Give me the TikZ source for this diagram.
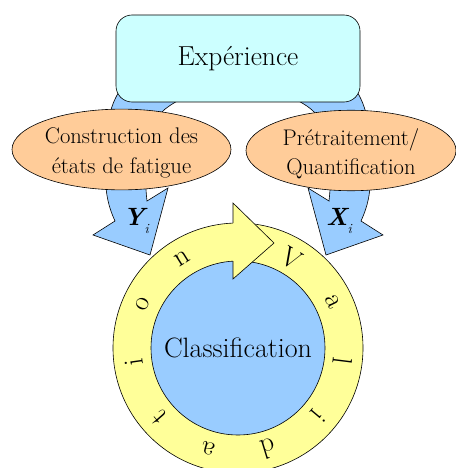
\documentclass[tikz,border=0pt]{standalone}
\usepackage{fontspec}
\newfontfamily\tnr{Latin Modern Roman}
\usetikzlibrary{shapes.geometric}
\definecolor{boxcyan}{HTML}{CCFFFF}
\definecolor{peach}{HTML}{FFCC99}
\definecolor{arrowblue}{HTML}{99CCFF}
\definecolor{ringyellow}{HTML}{FFFF99}
\tikzset{
  outl/.style={draw=black, line width=0.6pt},
  bluearrow/.style={fill=arrowblue, outl, line join=miter},
  topbox/.style={rectangle, rounded corners=16pt, fill=boxcyan, outl, minimum width=244pt, minimum height=87pt, inner sep=0pt, font=\tnr\fontsize{27.5}{30}\selectfont},
  stepell/.style={ellipse, fill=peach, outl, inner sep=0pt, align=center, font=\tnr\fontsize{22.6}{29.5}\selectfont},
  ringletter/.style={inner sep=0pt, font=\tnr\fontsize{28}{28}\selectfont},
  varlabel/.style={inner sep=0pt, font=\tnr\fontsize{25}{25}\selectfont\bfseries\itshape},
}
\begin{document}
\begin{tikzpicture}[x=1pt, y=-1pt]
\useasboundingbox (0,0) rectangle (455,468);
% blue curved arrows
\draw[bluearrow] (124,85) .. controls (106,105) and (101,150) .. (106,187)
  .. controls (107,200) and (110,210) .. (115,221) -- (93,235) -- (150,255) -- (168,188) -- (147,201)
  .. controls (144,175) and (145,140) .. (157,118)
  .. controls (163,109) and (172,103) .. (190,95) -- cycle;
\draw[bluearrow] (352,85) .. controls (370,105) and (375,150) .. (370,187)
  .. controls (369,200) and (366,210) .. (361,221) -- (383,235) -- (326,255) -- (308,188) -- (329,201)
  .. controls (332,175) and (331,140) .. (319,118)
  .. controls (313,109) and (304,103) .. (286,95) -- cycle;
% top box and ellipses
\node[topbox] (expe) at (238,58.5) {Expérience};
\node[stepell, minimum width=219pt, minimum height=67pt] (cons) at (121.5,149.5) {\rule{0pt}{23pt}Construction des\\états de fatigue};
\node[stepell, minimum width=210pt, minimum height=67pt] (pret) at (351,150.5) {\rule{0pt}{23pt}Prétraitement/\\Quantification};
% labels
\node[varlabel] (yi) at (136,221) {Y\raisebox{-0.3em}{\fontsize{14}{14}\selectfont\mdseries i}};
\node[varlabel] (xi) at (339,221) {X\raisebox{-0.3em}{\fontsize{14}{14}\selectfont\mdseries i}};
% ring
\coordinate (c) at (238,348);
\draw[fill=ringyellow, outl] (c) circle[radius=125pt];
\node[circle, fill=arrowblue, outl, minimum size=174pt, inner sep=0pt, font=\tnr\fontsize{28}{30}\selectfont] (clas) at (c) {Classification};
\fill[ringyellow] (233,203) -- (274,243) -- (233,279) -- cycle;
\draw[outl, line join=miter] (233,223.1) -- (233,203) -- (274,243) -- (233,279) -- (233,261.1);
\foreach \ch [count=\k] in {V,a,l,i,d,a,t,i,o,n} {
  \pgfmathsetmacro\ang{92-33*\k}
  \node[ringletter, rotate=\ang-90] (L\k) at ({238+105*cos(\ang)},{348-105*sin(\ang)}) {\ch};
}
\end{tikzpicture}
\end{document}
